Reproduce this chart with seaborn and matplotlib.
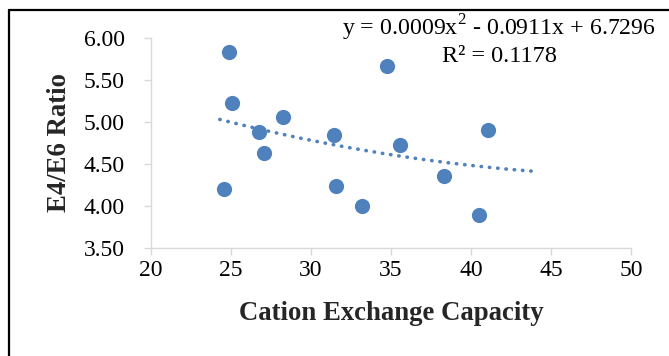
import matplotlib
matplotlib.use("Agg")
import matplotlib.pyplot as plt
import seaborn as sns
import numpy as np
import pandas as pd
from matplotlib.lines import Line2D

# data
cec = [24.85, 25.04, 24.58, 26.77, 27.08, 28.27, 31.44, 31.56, 33.19, 34.75, 35.58, 38.33, 40.52, 41.06]
ratio = [5.83, 5.23, 4.20, 4.88, 4.63, 5.06, 4.85, 4.24, 4.00, 5.67, 4.73, 4.36, 3.89, 4.90]
trend_range = [24.3, 43.9]
x_ticks = [20, 25, 30, 35, 40, 45, 50]
y_ticks = [3.50, 4.00, 4.50, 5.00, 5.50, 6.00]

sns.set_theme(style="white")
plt.rcParams['font.family'] = ['Liberation Serif', 'DejaVu Serif']
plt.rcParams['mathtext.fontset'] = 'custom'
plt.rcParams['mathtext.rm'] = 'Liberation Serif'

blue = '#4F81BD'
grey = '#D9D9D9'

fig = plt.figure(figsize=(6.69, 3.56), dpi=100)
fig.patch.set_facecolor('white')
ax = fig.add_axes([151/669, 1-248/356, 480/669, 210/356])

df = pd.DataFrame({'CEC': cec, 'Ratio': ratio})
sns.scatterplot(data=df, x='CEC', y='Ratio', ax=ax, s=120, color=blue,
                edgecolor=blue, linewidth=0, zorder=3)

# second-order polynomial trendline fitted to the data
coef = np.polyfit(cec, ratio, 2)
xt = np.linspace(trend_range[0], trend_range[1], 200)
yt = np.polyval(coef, xt)
ax.plot(xt, yt, color=blue, linestyle=(0, (0.1, 2.2)), linewidth=2.6,
        dash_capstyle='round', zorder=2)

ax.set_xlim(20, 50)
ax.set_ylim(3.5, 6.0)
ax.set_xticks(x_ticks)
ax.set_yticks(y_ticks)
ax.set_xticklabels([str(t) for t in x_ticks])
ax.set_yticklabels([f'{t:.2f}' for t in y_ticks])

for s in ['top', 'right']:
    ax.spines[s].set_visible(False)
for s in ['left', 'bottom']:
    ax.spines[s].set_color(grey)
    ax.spines[s].set_linewidth(1.0)
ax.tick_params(axis='both', which='major', length=5, width=1.0, color=grey,
               direction='out', labelsize=17, labelcolor='black')
ax.tick_params(axis='y', pad=14)
ax.tick_params(axis='x', pad=4)
ax.tick_params(left=True, bottom=True)

ax.set_xlabel('Cation Exchange Capacity', fontsize=19.3, fontweight='bold', labelpad=14)
ax.set_ylabel('E4/E6 Ratio', fontsize=19.3, fontweight='bold', labelpad=8)

fig.text(499/669, 1-28/356, r'y = 0.0009x$^{2}$ - 0.0911x + 6.7296', ha='center', va='center',
         fontsize=17.2, color='black')
fig.text(499/669, 1-56/356, 'R² = 0.1178', ha='center', va='center',
         fontsize=17.5, color='black')

# outer frame
fig.add_artist(Line2D([9/669, 9/669], [0, 1-10/356], transform=fig.transFigure,
                      color='black', linewidth=1.6))
fig.add_artist(Line2D([9/669, 1], [1-10/356, 1-10/356], transform=fig.transFigure,
                      color='black', linewidth=1.6))

fig.savefig('out.png', dpi=100, facecolor='white')
